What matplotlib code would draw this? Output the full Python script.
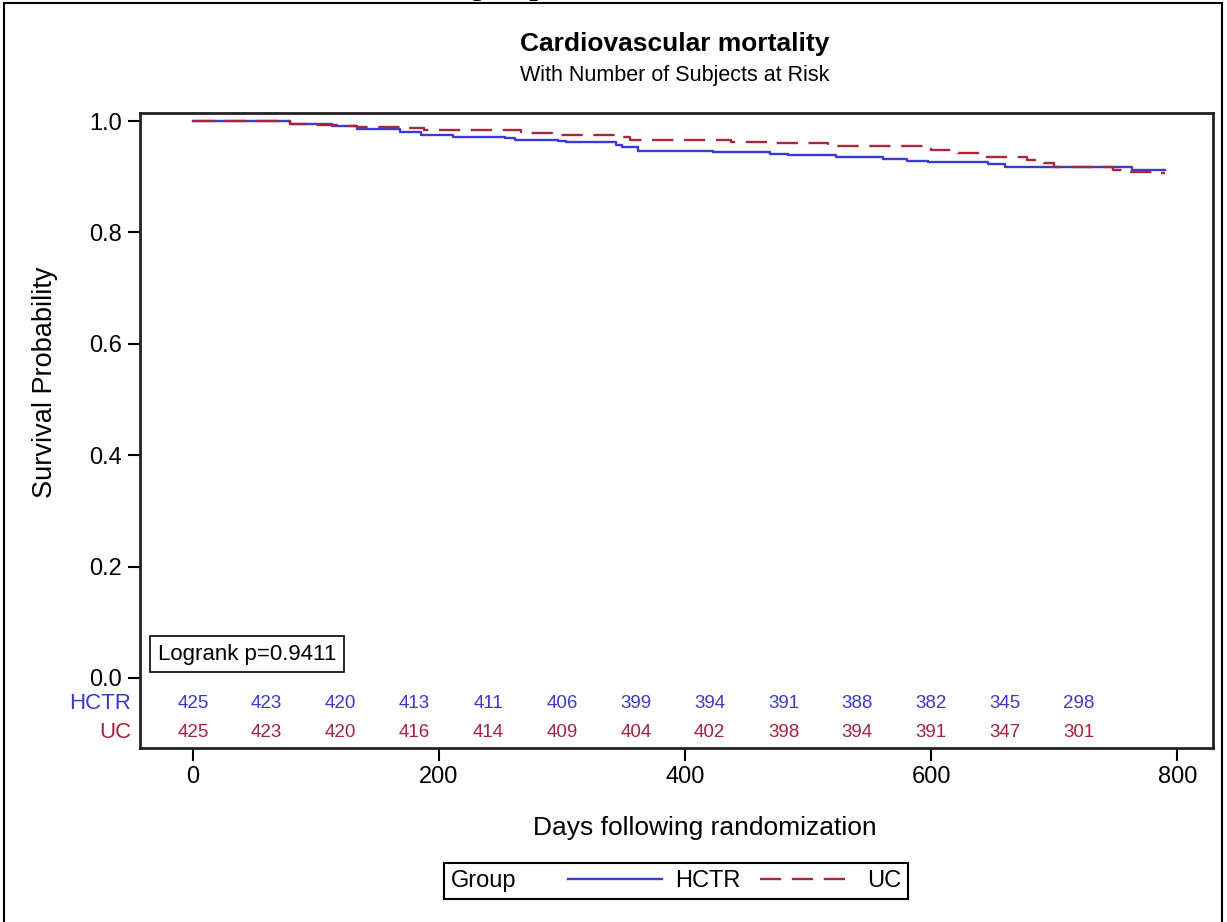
import matplotlib
matplotlib.use('Agg')
import matplotlib.pyplot as plt
from matplotlib.patches import Rectangle
from matplotlib.offsetbox import HPacker

plt.rcParams['font.family'] = ['Liberation Sans', 'DejaVu Sans']

# Kaplan-Meier step estimates (days, survival)
hctr_days = [0, 79, 113, 133, 168, 185, 211, 254, 262, 297, 303, 344, 349, 362,
             403, 423, 469, 484, 523, 561, 580, 597, 646, 660, 763, 790]
hctr_surv = [1.0, 0.995, 0.991, 0.985, 0.980, 0.975, 0.971, 0.969, 0.966, 0.964,
             0.962, 0.957, 0.953, 0.947, 0.946, 0.944, 0.941, 0.939, 0.935, 0.931,
             0.929, 0.927, 0.923, 0.918, 0.912, 0.912]

uc_days = [0, 79, 97, 122, 133, 173, 188, 267, 292, 345, 355, 437, 470, 516, 600,
           622, 643, 678, 692, 700, 748, 759, 781, 790]
uc_surv = [1.0, 0.995, 0.993, 0.991, 0.990, 0.988, 0.984, 0.978, 0.975, 0.971,
           0.966, 0.962, 0.960, 0.955, 0.948, 0.942, 0.936, 0.930, 0.924, 0.918,
           0.912, 0.909, 0.906, 0.906]

# number at risk table
risk_days = [0, 60, 120, 180, 240, 300, 360, 420, 480, 540, 600, 660, 720]
hctr_risk = [425, 423, 420, 413, 411, 406, 399, 394, 391, 388, 382, 345, 298]
uc_risk = [425, 423, 420, 416, 414, 409, 404, 402, 398, 394, 391, 347, 301]

groups = ['HCTR', 'UC']
blue = '#3b3bd4'
red = '#a8283a'
blue_txt = '#3a3ac8'
red_txt = '#a3243a'

fig = plt.figure(figsize=(12.27, 9.22), dpi=100)
ax = fig.add_axes([140 / 1227, 1 - 748 / 922, 1073 / 1227, 635 / 922])

l1, = ax.step(hctr_days, hctr_surv, where='post', color=blue, lw=1.7)
l2, = ax.step(uc_days, uc_surv, where='post', color=red, lw=1.7,
              linestyle=(0, (9, 4.5)))

ax.set_xlim(-43, 829)
ax.set_ylim(-0.1257, 1.0144)
ax.set_yticks([0.0, 0.2, 0.4, 0.6, 0.8, 1.0])
ax.set_yticklabels(['0.0', '0.2', '0.4', '0.6', '0.8', '1.0'])
ax.set_xticks([0, 200, 400, 600, 800])
ax.tick_params(labelsize=17, length=9, width=1.5, pad=4)
for s in ax.spines.values():
    s.set_linewidth(2)
    s.set_color('#222222')

# at-risk rows inside the plot area
for d, n in zip(risk_days, hctr_risk):
    ax.text(d, -0.0467, str(n), color=blue_txt, fontsize=13.5, ha='center', va='center')
for d, n in zip(risk_days, uc_risk):
    ax.text(d, -0.0987, str(n), color=red_txt, fontsize=13.5, ha='center', va='center')
trans = ax.get_yaxis_transform()
ax.text(-0.008, -0.0467, groups[0], color=blue_txt, fontsize=16, ha='right', va='center',
        transform=trans)
ax.text(-0.008, -0.0987, groups[1], color=red_txt, fontsize=16, ha='right', va='center',
        transform=trans)

ax.text(0.017, 0.043, 'Logrank p=0.9411', transform=trans, fontsize=16,
        ha='left', va='center',
        bbox=dict(boxstyle='square,pad=0.35', fc='white', ec='black', lw=1.2))

fig.text(675 / 1227, 1 - 44 / 922, 'Cardiovascular mortality', fontsize=19,
         fontweight='bold', ha='center', va='center')
fig.text(675 / 1227, 1 - 75 / 922, 'With Number of Subjects at Risk', fontsize=15.5,
         ha='center', va='center')
fig.text(705 / 1227, 1 - 828 / 922, 'Days following randomization', fontsize=19,
         ha='center', va='center')
fig.text(45 / 1227, 1 - 382 / 922, 'Survival Probability', fontsize=19.5,
         ha='center', va='center', rotation=90)

# cut-off heading from the page above
fig.text(469 / 1227, 1 + 6 / 922, 'group', fontsize=22, fontweight='bold',
         family='Liberation Serif', ha='left', va='baseline')

# legend with the title placed to the left of the entries
leg = fig.legend([l1, l2], groups, loc='center', bbox_to_anchor=(676 / 1227, 1 - 881 / 922),
                 ncol=2, title='Group', fontsize=17, title_fontsize=17,
                 handlelength=4, handletextpad=0.55, columnspacing=0.8,
                 fancybox=False, edgecolor='black', framealpha=1, borderpad=0.3)
leg.get_frame().set_linewidth(1.5)
box = HPacker(pad=leg._legend_box.pad, sep=37, align='center',
              children=[leg._legend_title_box, leg._legend_handle_box])
box.set_figure(fig)
box.set_offset(leg._findoffset)
leg._legend_box = box

# page frame
fig.patches.append(Rectangle((4 / 1227, -0.05), 1218 / 1227, 1.05 - 3 / 922,
                             transform=fig.transFigure, fill=False, ec='black', lw=1.5))

fig.savefig('out.png', dpi=100)
